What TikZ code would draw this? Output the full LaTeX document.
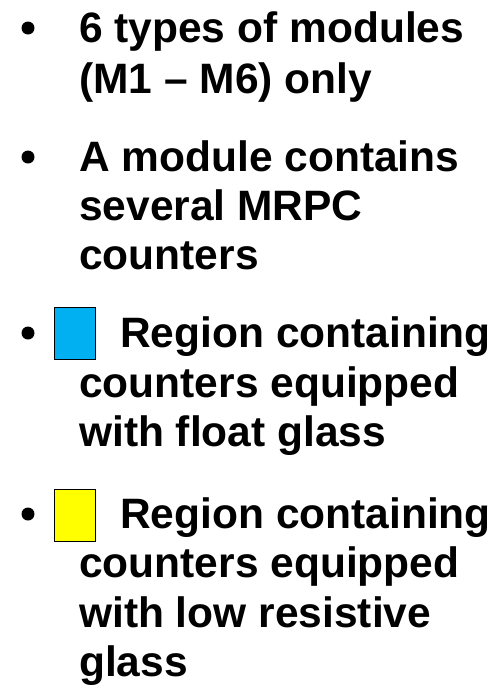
\documentclass[tikz,border=0pt]{standalone}
\usepackage{fontspec}
\setmainfont{Liberation Sans}
\definecolor{floatblue}{RGB}{0,176,240}
\definecolor{lowresyellow}{RGB}{255,255,0}
\tikzset{
    item line/.style={
        anchor=base west,
        inner sep=0pt,
        font=\bfseries\fontsize{42.5}{49}\selectfont
    },
    item dot/.style={
        circle,
        fill=black,
        inner sep=0pt,
        minimum size=13pt
    },
    region box/.style={
        draw=black,
        line width=1.5pt,
        anchor=north west,
        inner sep=0pt,
        minimum width=41pt,
        minimum height=52pt
    }
}

\begin{document}
\begin{tikzpicture}[x=1pt,y=-1pt]
    \useasboundingbox (0,0) rectangle (493,689);
    % first item
    \node[item dot] (dot1) at (28,28) {};
    \node[item line] (mod1) at (79,42) {6 types of modules};
    \node[item line] (mod2) at (79,93) {(M1 – M6) only};
    % second item
    \node[item dot] (dot2) at (28,157) {};
    \node[item line] (cnt1) at (79,171) {A module contains};
    \node[item line] (cnt2) at (79,220) {several MRPC};
    \node[item line] (cnt3) at (79,269) {counters};
    % third item, float glass
    \node[item dot] (dot3) at (28,333) {};
    \node[region box, fill=floatblue] (floatbox) at (53.5,306.5) {};
    \node[item line] (flt1) at (120,347) {Region containing};
    \node[item line] (flt2) at (79,397) {counters equipped};
    \node[item line] (flt3) at (79,446) {with float glass};
    % fourth item, low resistive glass
    \node[item dot] (dot4) at (28,514) {};
    \node[region box, fill=lowresyellow] (lowbox) at (53.5,488.5) {};
    \node[item line] (low1) at (120,528) {Region containing};
    \node[item line] (low2) at (79,577) {counters equipped};
    \node[item line] (low3) at (79,627) {with low resistive};
    \node[item line] (low4) at (79,676) {glass};
\end{tikzpicture}
\end{document}
